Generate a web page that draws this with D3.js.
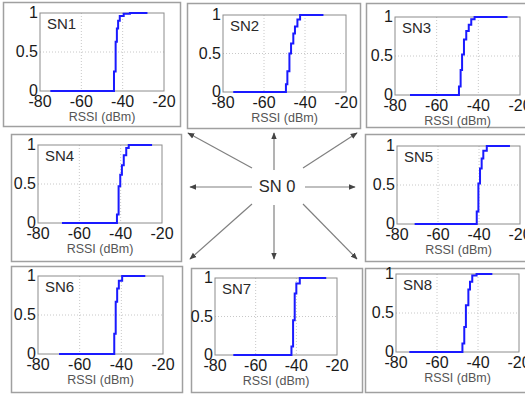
<!DOCTYPE html>
<html lang="en">
<head>
  <meta charset="UTF-8">
  <title>rssi cdf</title>
  <script src="https://d3js.org/d3.v7.min.js"></script>
  <style>
    body {
      margin: 0;
      padding: 0;
      background: #fff;
    }
    svg text {
      font-family: "Liberation Sans", Arial, sans-serif;
    }
  </style>
</head>
<body>
  <div id="chart"></div>
</body>
<script>
  // node names
  const nodes = ['SN1', 'SN2', 'SN3', 'SN4', 'SN5', 'SN6', 'SN7', 'SN8']

  const sn1Rssi = [-75, -44.2, -43.4, -42.8, -42.2, -41.4, -39.5, -36.5, -28]
  const sn1Cdf  = [0, 0.25, 0.63, 0.8, 0.9, 0.96, 0.99, 1, 1]
  const sn2Rssi = [-75, -49.3, -48.6, -47.6, -46.8, -45.7, -44.9, -43.7, -42.4, -31]
  const sn2Cdf  = [0, 0.1, 0.27, 0.5, 0.63, 0.76, 0.85, 0.94, 1, 1]
  const sn3Rssi = [-72.8, -49.3, -48.5, -47.8, -46.9, -45.8, -44.6, -43.4, -41.8, -26]
  const sn3Cdf  = [0, 0.11, 0.32, 0.52, 0.71, 0.82, 0.9, 0.97, 1, 1]
  const sn4Rssi = [-68.4, -41.8, -41, -40.2, -39.4, -38.5, -37.3, -36.1, -24.8]
  const sn4Cdf  = [0, 0.11, 0.47, 0.62, 0.74, 0.87, 0.96, 1, 1]
  const sn5Rssi = [-71.4, -41.1, -40.3, -39.5, -38.7, -37.9, -36.2, -24.9]
  const sn5Cdf  = [0, 0.16, 0.52, 0.71, 0.84, 0.94, 1, 1]
  const sn6Rssi = [-69.9, -43.4, -42.7, -42, -41.2, -39.6, -28.5]
  const sn6Cdf  = [0, 0.26, 0.67, 0.84, 0.94, 1, 1]
  const sn7Rssi = [-71, -42.4, -41.6, -40.8, -40, -38.3, -25.3]
  const sn7Cdf  = [0, 0.11, 0.45, 0.8, 0.93, 1, 1]
  const sn8Rssi = [-73.5, -47.6, -46.7, -45.9, -44.7, -43.9, -42.8, -40.7, -33]
  const sn8Cdf  = [0, 0.11, 0.32, 0.6, 0.8, 0.9, 0.98, 1, 1]

  const rssiList = [sn1Rssi, sn2Rssi, sn3Rssi, sn4Rssi, sn5Rssi, sn6Rssi, sn7Rssi, sn8Rssi]
  const cdfList = [sn1Cdf, sn2Cdf, sn3Cdf, sn4Cdf, sn5Cdf, sn6Cdf, sn7Cdf, sn8Cdf]

  // axis ticks
  const xTicks = [-80, -60, -40, -20]
  const yTicks = [0, 0.5, 1]
  const yTickLabels = ['0', '0.5', '1']
  const centerLabel = 'SN 0'
  const xLabel = 'RSSI (dBm)'

  // panel layout: outer box and plot area
  const panels = [
    { box: [3, 2, 177, 124], plot: [40, 13, 124, 78] },
    { box: [187, 3, 173, 125], plot: [223, 15, 123, 77] },
    { box: [366, 3, 165, 124], plot: [395, 17, 125, 78] },
    { box: [11, 134, 170, 127], plot: [38, 145, 124, 78] },
    { box: [365, 134, 165, 127], plot: [397, 146, 123, 78] },
    { box: [11, 266, 171, 126], plot: [38, 276, 125, 78] },
    { box: [191, 268, 171, 124], plot: [215, 278, 122, 77] },
    { box: [365, 268, 165, 124], plot: [396, 274, 123, 78] },
  ]

  // arrows out of the centre node: [x1, y1, x2, y2]
  const arrows = [
    [252, 168, 188, 133],
    [274, 170, 274, 133],
    [303, 168, 357, 133],
    [252, 187, 190, 187],
    [305, 187, 355, 187],
    [252, 204, 190, 259],
    [274, 205, 274, 259],
    [303, 204, 357, 259],
  ]

  const width = 525
  const height = 396

  const svg = d3.select('#chart')
    .append('svg')
    .attr('width', width)
    .attr('height', height)

  svg.append('defs')
    .append('marker')
    .attr('id', 'head')
    .attr('viewBox', '0 0 10 10')
    .attr('refX', 9)
    .attr('refY', 5)
    .attr('markerWidth', 7)
    .attr('markerHeight', 7)
    .attr('markerUnits', 'userSpaceOnUse')
    .attr('orient', 'auto')
    .append('path')
    .attr('d', 'M0,1L10,5L0,9Z')
    .attr('fill', '#444')

  nodes.forEach((name, i) => {
    const p = panels[i]
    const [bx, by, bw, bh] = p.box
    const [px, py, pw, ph] = p.plot
    const g = svg.append('g')

    g.append('rect')
      .attr('x', bx + 0.5)
      .attr('y', by + 0.5)
      .attr('width', bw)
      .attr('height', bh)
      .attr('fill', 'none')
      .attr('stroke', '#a0a0a0')
      .attr('stroke-width', 1.5)

    const x = d3.scaleLinear().domain([-80, -20]).range([px, px + pw])
    const y = d3.scaleLinear().domain([0, 1]).range([py + ph, py])

    // grid
    g.append('g')
      .selectAll('line')
      .data([-60, -40])
      .join('line')
      .attr('x1', d => x(d)).attr('x2', d => x(d))
      .attr('y1', py).attr('y2', py + ph)
      .attr('stroke', '#c8c8c8')
      .attr('stroke-dasharray', '1,2')
    g.append('line')
      .attr('x1', px).attr('x2', px + pw)
      .attr('y1', y(0.5)).attr('y2', y(0.5))
      .attr('stroke', '#c8c8c8')
      .attr('stroke-dasharray', '1,2')

    g.append('rect')
      .attr('x', px)
      .attr('y', py)
      .attr('width', pw)
      .attr('height', ph)
      .attr('fill', 'none')
      .attr('stroke', '#8c8c8c')
      .attr('stroke-width', 1)

    // cdf line
    const pts = rssiList[i].map((r, k) => [r, cdfList[i][k]])
    g.append('path')
      .datum(pts)
      .attr('fill', 'none')
      .attr('stroke', '#1a1aff')
      .attr('stroke-width', 2)
      .attr('d', d3.line().x(d => x(d[0])).y(d => y(d[1])).curve(d3.curveStepAfter))

    // tick labels
    g.append('g')
      .selectAll('text')
      .data(xTicks)
      .join('text')
      .attr('x', d => x(d))
      .attr('y', py + ph + 16)
      .attr('text-anchor', 'middle')
      .attr('font-size', 16)
      .attr('fill', '#1a1a1a')
      .text(d => d)
    g.append('g')
      .selectAll('text')
      .data(yTicks)
      .join('text')
      .attr('x', px - 2)
      .attr('y', d => y(d) + 5)
      .attr('text-anchor', 'end')
      .attr('font-size', 16)
      .attr('fill', '#1a1a1a')
      .text((d, k) => yTickLabels[k])

    g.append('text')
      .attr('x', px + pw / 2)
      .attr('y', py + ph + 30)
      .attr('text-anchor', 'middle')
      .attr('font-size', 12.5)
      .attr('fill', '#555')
      .text(xLabel)

    g.append('text')
      .attr('x', px + 7)
      .attr('y', py + 16)
      .attr('font-size', 15)
      .attr('fill', '#2a2a2a')
      .text(name)
  })

  svg.append('g')
    .selectAll('line')
    .data(arrows)
    .join('line')
    .attr('x1', d => d[0]).attr('y1', d => d[1])
    .attr('x2', d => d[2]).attr('y2', d => d[3])
    .attr('stroke', '#808080')
    .attr('stroke-width', 1.2)
    .attr('marker-end', 'url(#head)')

  svg.append('text')
    .attr('x', 277)
    .attr('y', 192)
    .attr('text-anchor', 'middle')
    .attr('font-size', 16.5)
    .attr('fill', '#2a2a2a')
    .text(centerLabel)
</script>
</html>
